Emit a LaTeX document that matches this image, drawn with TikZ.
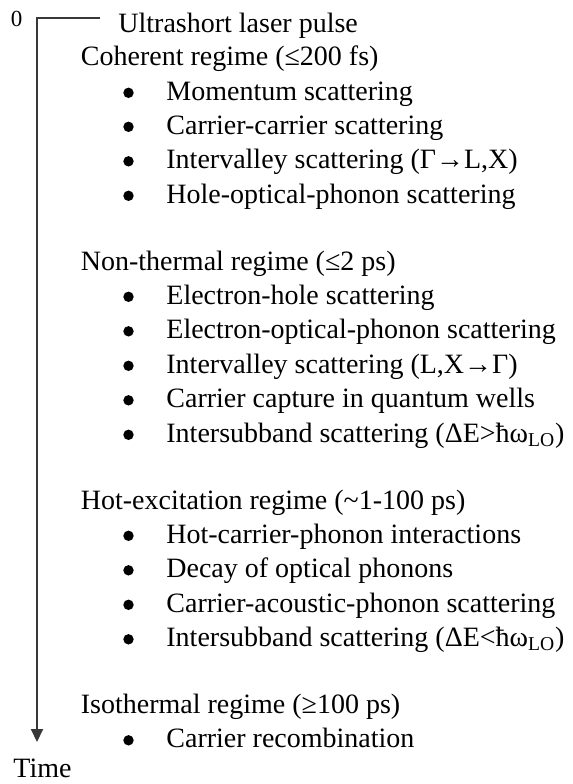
\documentclass[tikz,border=0pt]{standalone}
\usepackage{fontspec}
\setmainfont{Liberation Serif}
\usetikzlibrary{arrows.meta}
\tikzset{
  txt/.style={anchor=base west, inner sep=0pt, font=\fontsize{14pt}{17pt}\selectfont},
  bul/.style={fill=black},
  axis/.style={draw=black!78, line width=1pt, -{Triangle[width=6pt,length=6.5pt]}}
}
\newcommand{\itm}[3]{%
  \node[txt] (#1) at (166,#2) {#3};
  \fill[bul] (128.5,#2-7.2) circle [radius=2.6pt];}
\begin{document}
\begin{tikzpicture}[x=0.5pt,y=-0.5pt]
\useasboundingbox (0,0) rectangle (573,784);
\node[anchor=base, inner sep=0pt, font=\fontsize{11.5pt}{14pt}\selectfont] (zero) at (16.5,26) {0};
\node[txt] (pulse) at (118,32.5) {Ultrashort laser pulse};
\node[txt] (coh) at (80.5,65.5) {Coherent regime (≤200 fs)};
\itm{c1}{100}{Momentum scattering}
\itm{c2}{134}{Carrier-carrier scattering}
\itm{c3}{168.5}{Intervalley scattering (Γ→L,X)}
\itm{c4}{203}{Hole-optical-phonon scattering}
\node[txt] (non) at (80.5,270) {Non-thermal regime (≤2 ps)};
\itm{n1}{304}{Electron-hole scattering}
\itm{n2}{338.5}{Electron-optical-phonon scattering}
\itm{n3}{373}{Intervalley scattering (L,X→Γ)}
\itm{n4}{407.5}{Carrier capture in quantum wells}
\itm{n5}{442}{Intersubband scattering (ΔE>ħω\textsubscript{LO})}
\node[txt] (hot) at (80.5,509) {Hot-excitation regime (\textasciitilde 1-100 ps)};
\itm{h1}{543}{Hot-carrier-phonon interactions}
\itm{h2}{577.5}{Decay of optical phonons}
\itm{h3}{612}{Carrier-acoustic-phonon scattering}
\itm{h4}{646.5}{Intersubband scattering (ΔE<ħω\textsubscript{LO})}
\node[txt] (iso) at (80.5,713) {Isothermal regime (≥100 ps)};
\itm{i1}{747.5}{Carrier recombination}
\node[txt] (time) at (13,777) {Time};
\coordinate (axstart) at (100,18.3);
\coordinate (axcorner) at (37,18.3);
\coordinate (axend) at (37,742);
\draw[axis] (axstart) -- (axcorner) -- (axend);
\end{tikzpicture}
\end{document}
